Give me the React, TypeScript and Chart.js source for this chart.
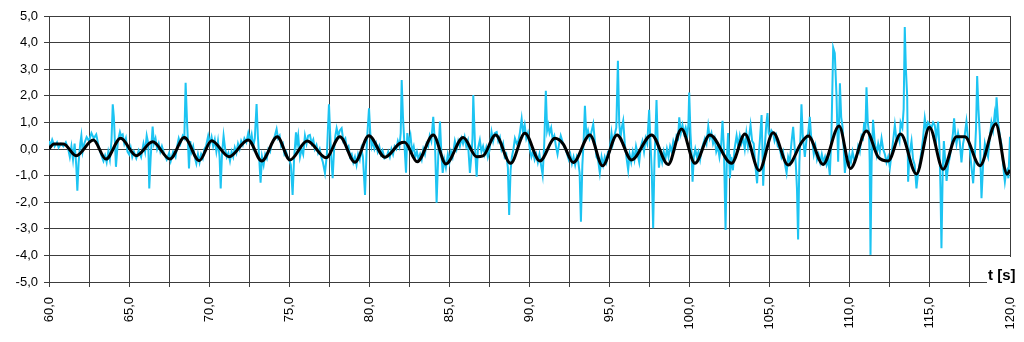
import React, { useEffect, useRef } from "react";
import { Chart, registerables } from "chart.js";

Chart.register(...registerables);

// ---- axis settings (values) ----
const xMin = 60;
const xMax = 120;
const xStep = 2.5;
const xLabelEvery = 5;
const yMin = -5;
const yMax = 5;
const yStep = 1;
const xAxisTitle = "t [s]";

// ---- black (smoothed) series: time [s] / value ----
const tBlack = [
  60.0, 60.3, 60.9, 61.7, 62.77, 63.56, 64.47, 65.45, 66.47, 67.55,
  68.45, 69.38, 70.15, 71.24, 72.44, 73.28, 74.25, 75.04, 76.12, 77.3,
  78.16, 79.1, 79.97, 80.97, 81.9, 82.2, 82.99, 83.99, 84.78, 85.86,
  86.7, 87.1, 87.88, 88.82, 89.71, 90.65, 91.59, 92.1, 92.73, 93.77,
  94.56, 95.47, 96.37, 97.62, 98.66, 99.49, 100.33, 101.26, 102.62, 103.45,
  104.34, 105.21, 106.15, 106.98, 107.4, 108.33, 109.33, 110.04, 111.04, 111.77,
  112.4, 113.17, 114.16, 114.97, 115.82, 116.66, 117.18, 118.12, 119.11, 119.82,
  120.0,
];
const vBlack = [
  0.0, 0.19, 0.19, -0.25, 0.34, -0.38, 0.40, -0.25, 0.27, -0.38,
  0.43, -0.44, 0.31, -0.29, 0.34, -0.45, 0.46, -0.41, 0.30, -0.33,
  0.46, -0.50, 0.50, -0.31, 0.21, 0.25, -0.48, 0.53, -0.56, 0.43,
  -0.29, -0.26, 0.53, -0.54, 0.59, -0.45, 0.40, 0.19, -0.51, 0.53,
  -0.63, 0.53, -0.41, 0.53, -0.58, 0.75, -0.54, 0.53, -0.54, 0.56,
  -0.81, 0.61, -0.60, 0.24, 0.49, -0.58, 0.86, -0.73, 0.68, -0.30,
  -0.45, 0.56, -0.94, 0.82, -0.76, 0.46, 0.46, -0.63, 0.94, -0.94,
  -0.79,
];

// ---- cyan (raw) series: time [s] / value ----
const tCyan = [
  // 60-65
  60.0, 60.1, 60.2, 60.35, 60.5, 60.6, 60.75, 60.9, 61.05, 61.2,
  61.3, 61.4, 61.5, 61.6, 61.7, 61.77, 61.85, 61.95, 62.02, 62.1,
  62.2, 62.35, 62.5, 62.65, 62.8, 62.95, 63.1, 63.25, 63.4, 63.5,
  63.6, 63.7, 63.8, 63.9, 63.98, 64.05, 64.12, 64.18, 64.3, 64.43,
  64.5, 64.6, 64.7, 64.8, 64.9, 65.0,
  // 65-70
  65.1, 65.2, 65.3, 65.45, 65.6, 65.75, 65.9, 66.0, 66.1, 66.2,
  66.26, 66.35, 66.47, 66.55, 66.65, 66.75, 66.85, 66.95, 67.05, 67.2,
  67.35, 67.5, 67.6, 67.75, 67.9, 68.0, 68.1, 68.2, 68.35, 68.45,
  68.53, 68.62, 68.68, 68.74, 68.82, 68.9, 69.0, 69.1, 69.2, 69.3,
  69.4, 69.5, 69.6, 69.7, 69.8, 69.94,
  // 70-75
  70.05, 70.15, 70.25, 70.35, 70.45, 70.55, 70.65, 70.72, 70.8, 70.9,
  71.0, 71.1, 71.2, 71.3, 71.4, 71.5, 71.6, 71.7, 71.8, 71.9,
  72.0, 72.1, 72.2, 72.32, 72.44, 72.55, 72.65, 72.75, 72.85, 72.96,
  73.04, 73.12, 73.21, 73.3, 73.4, 73.5, 73.6, 73.7, 73.8, 73.9,
  74.0, 74.1, 74.21, 74.3, 74.4, 74.5, 74.6, 74.7, 74.8, 74.9,
  // 75-80
  75.0, 75.1, 75.21, 75.3, 75.42, 75.49, 75.56, 75.67, 75.77, 75.87,
  75.98, 76.08, 76.18, 76.29, 76.4, 76.5, 76.6, 76.7, 76.8, 76.9,
  77.0, 77.1, 77.23, 77.35, 77.48, 77.56, 77.63, 77.71, 77.8, 77.88,
  77.96, 78.06, 78.16, 78.27, 78.38, 78.5, 78.6, 78.7, 78.8, 78.9,
  79.0, 79.1, 79.2, 79.3, 79.4, 79.5, 79.6, 79.73, 79.85, 79.98,
  // 80-85
  80.06, 80.14, 80.22, 80.32, 80.42, 80.52, 80.62, 80.72, 80.82, 80.95,
  81.08, 81.18, 81.28, 81.38, 81.48, 81.58, 81.68, 81.78, 81.88, 81.96,
  82.02, 82.1, 82.18, 82.29, 82.37, 82.47, 82.57, 82.67, 82.77, 82.87,
  82.97, 83.07, 83.17, 83.27, 83.37, 83.47, 83.57, 83.67, 83.77, 83.87,
  83.99, 84.1, 84.2, 84.3, 84.41, 84.5, 84.58, 84.68, 84.78, 84.9,
  // 85-90
  85.0, 85.1, 85.2, 85.34, 85.45, 85.55, 85.65, 85.75, 85.85, 85.95,
  86.05, 86.15, 86.28, 86.38, 86.44, 86.49, 86.56, 86.62, 86.7, 86.78,
  86.9, 87.0, 87.1, 87.2, 87.3, 87.4, 87.5, 87.63, 87.73, 87.83,
  87.95, 88.05, 88.15, 88.25, 88.35, 88.45, 88.55, 88.65, 88.73, 88.82,
  88.9, 89.0, 89.09, 89.2, 89.3, 89.4, 89.51, 89.6, 89.7, 89.8,
  // 90-95
  89.9, 90.02, 90.12, 90.22, 90.32, 90.42, 90.52, 90.62, 90.72, 90.82,
  90.92, 91.02, 91.1, 91.17, 91.25, 91.35, 91.45, 91.55, 91.65, 91.75,
  91.85, 91.95, 92.05, 92.15, 92.25, 92.35, 92.45, 92.55, 92.65, 92.75,
  92.85, 92.95, 93.05, 93.13, 93.21, 93.3, 93.38, 93.46, 93.55, 93.65,
  93.75, 93.85, 93.98, 94.08, 94.18, 94.28, 94.39, 94.5, 94.6, 94.7,
  94.8, 94.9,
  // 95-100
  95.0, 95.12, 95.2, 95.3, 95.42, 95.52, 95.6, 95.68, 95.76, 95.85,
  95.95, 96.05, 96.16, 96.25, 96.35, 96.45, 96.55, 96.65, 96.75, 96.85,
  96.95, 97.05, 97.15, 97.25, 97.35, 97.47, 97.55, 97.63, 97.72, 97.8,
  97.86, 97.93, 98.0, 98.08, 98.18, 98.28, 98.38, 98.48, 98.58, 98.68,
  98.78, 98.88, 98.98, 99.08, 99.18, 99.28, 99.35, 99.45, 99.55, 99.65,
  99.75, 99.85, 99.92, 99.97,
  // 100-105
  100.05, 100.12, 100.18, 100.26, 100.35, 100.45, 100.55, 100.65, 100.75, 100.85,
  100.95, 101.05, 101.16, 101.26, 101.36, 101.46, 101.56, 101.66, 101.76, 101.86,
  101.96, 102.05, 102.14, 102.24, 102.32, 102.4, 102.46, 102.51, 102.6, 102.7,
  102.8, 102.93, 103.03, 103.13, 103.23, 103.34, 103.44, 103.54, 103.64, 103.72,
  103.8, 103.9, 104.0, 104.1, 104.21, 104.3, 104.38, 104.49, 104.54, 104.59,
  104.68, 104.78, 104.86, 104.93,
  // 105-110
  105.0, 105.1, 105.21, 105.3, 105.4, 105.5, 105.63, 105.73, 105.83, 105.93,
  106.05, 106.15, 106.25, 106.35, 106.46, 106.55, 106.63, 106.7, 106.77, 106.85,
  106.92, 106.98, 107.06, 107.13, 107.19, 107.3, 107.4, 107.5, 107.58, 107.66,
  107.75, 107.85, 107.95, 108.05, 108.15, 108.25, 108.35, 108.45, 108.55, 108.65,
  108.75, 108.85, 108.96, 109.06, 109.17, 109.27, 109.38, 109.46, 109.54, 109.62,
  109.69, 109.79, 109.89, 109.97,
  // 110-115
  110.07, 110.17, 110.27, 110.42, 110.52, 110.62, 110.73, 110.82, 110.9, 110.97,
  111.04, 111.12, 111.2, 111.24, 111.29, 111.36, 111.45, 111.55, 111.67, 111.77,
  111.87, 111.98, 112.08, 112.19, 112.29, 112.39, 112.5, 112.6, 112.7, 112.81,
  112.9, 113.02, 113.1, 113.17, 113.28, 113.36, 113.43, 113.5, 113.58, 113.64,
  113.72, 113.85, 113.95, 114.05, 114.16, 114.26, 114.37, 114.47, 114.57, 114.68,
  114.78, 114.88, 114.99,
  // 115-120
  115.1, 115.2, 115.3, 115.4, 115.51, 115.6, 115.66, 115.72, 115.8, 115.87,
  115.95, 116.04, 116.14, 116.24, 116.34, 116.44, 116.51, 116.58, 116.66, 116.76,
  116.86, 116.97, 117.07, 117.17, 117.28, 117.38, 117.49, 117.58, 117.7, 117.8,
  117.88, 117.95, 118.03, 118.12, 118.17, 118.22, 118.32, 118.43, 118.53, 118.63,
  118.73, 118.84, 118.94, 119.04, 119.1, 119.16, 119.26, 119.36, 119.46, 119.56,
  119.62, 119.68, 119.75, 119.82, 119.9, 120.0,
];
const vCyan = [
  // 60-65
  0.3, 0.15, 0.35, 0.1, 0.25, 0.05, 0.2, 0.1, 0.25, 0.0,
  -0.3, 0.1, -0.4, 0.2, -0.6, -1.57, -0.5, 0.2, 0.5, -0.1,
  0.2, 0.45, 0.3, 0.6, 0.4, 0.55, 0.1, -0.2, -0.45, -0.25,
  -0.5, -0.1, -0.4, 0.3, 1.68, 1.2, 0.2, -0.67, 0.3, 0.64,
  0.5, 0.55, 0.2, 0.4, -0.1, -0.2,
  // 65-70
  0.05, -0.3, -0.1, -0.35, -0.05, -0.3, 0.2, -0.1, 0.5, 0.2,
  -1.48, -0.3, 0.84, 0.2, 0.4, 0.0, 0.2, -0.1, 0.1, -0.2,
  -0.4, -0.15, -0.45, -0.1, -0.3, 0.1, 0.4, 0.2, 0.5, 0.4,
  2.49, 1.0, 0.2, -0.73, 0.3, -0.1, 0.1, -0.3, -0.55, -0.2,
  -0.5, -0.2, -0.35, 0.0, 0.1, 0.5,
  // 70-75
  0.2, 0.45, 0.1, 0.35, -0.1, 0.3, -0.3, -1.48, -0.2, 0.5,
  0.0, -0.3, -0.15, -0.45, -0.1, -0.3, 0.05, -0.15, 0.2, 0.0,
  0.3, 0.15, 0.4, 0.25, 0.6, 0.3, 0.55, 0.1, 0.4, 1.69,
  0.5, -0.3, -1.27, -0.3, -0.6, -0.2, -0.35, 0.0, -0.1, 0.2,
  0.3, 0.5, 0.75, 0.4, 0.5, 0.1, 0.2, -0.2, -0.1, -0.3,
  // 75-80
  -0.4, -0.6, -1.73, -0.4, 0.63, 0.2, 0.5, -0.3, 0.0, -0.2,
  0.5, 0.2, 0.5, 0.53, 0.2, 0.35, 0.0, 0.15, -0.15, 0.0,
  -0.3, -0.5, -0.91, -0.2, 1.68, 0.5, -0.4, -1.1, 0.0, 0.5,
  0.78, 0.5, 0.7, 0.78, 0.3, 0.4, 0.0, 0.1, -0.3, -0.2,
  -0.5, -0.3, -0.6, -0.2, -0.4, 0.0, -0.3, -1.73, 0.3, 1.53,
  // 80-85
  0.6, 0.1, 0.3, 0.0, 0.2, -0.1, 0.1, -0.2, -0.05, -0.35,
  -0.3, -0.1, -0.3, 0.0, -0.2, 0.1, 0.0, 0.3, 0.1, 0.6,
  2.59, 1.2, 0.3, -0.89, 0.6, 0.2, 0.5, -0.1, 0.1, -0.3,
  -0.1, -0.4, -0.2, -0.4, 0.0, -0.2, 0.2, 0.1, 0.5, 0.3,
  1.21, 0.2, -2.02, -0.3, 1.03, -0.2, -0.9, -0.4, -0.7, -0.2,
  // 85-90
  -0.5, -0.1, -0.3, 0.3, 0.0, 0.3, 0.1, 0.4, 0.2, 0.45,
  0.1, 0.3, -0.9, -0.2, 0.4, 2.03, 0.8, -0.2, -1.04, 0.0,
  0.34, -0.1, 0.1, -0.2, 0.05, -0.3, -0.05, 0.64, 0.3, 0.6,
  0.64, 0.3, 0.45, 0.0, 0.2, -0.3, -0.2, -0.7, -2.48, -0.8,
  -0.3, 0.0, 0.4, 0.2, 0.3, 0.6, 1.13, 0.6, 0.9, 0.4,
  // 90-95
  0.6, 0.0, -0.3, -0.1, -0.4, -0.2, -0.5, -0.2, -0.6, -0.98,
  0.2, 2.19, 0.7, 0.9, 0.6, 0.8, 0.35, 0.5, 0.1, -0.2,
  0.2, 0.5, 0.3, 0.1, 0.0, -0.2, -0.4, -0.2, -0.55, -0.3,
  -0.6, -0.3, -0.5, -0.9, -2.73, -0.6, 0.3, 1.62, 0.5, 0.7,
  0.4, 0.6, 0.94, 0.3, -0.3, -0.4, -0.9, -0.3, -0.6, -0.3,
  -0.5, -0.1,
  // 95-100
  -0.1, 0.6, 0.2, 0.5, 0.8, 3.32, 1.0, 0.4, 0.8, 1.06,
  0.2, -0.3, -0.79, -0.2, -0.5, -0.1, -0.4, 0.1, -0.2, -0.5,
  0.1, 0.3, -0.1, 0.4, 0.2, 1.47, 0.3, -0.8, -2.98, -0.5,
  0.5, 1.84, 0.4, -0.7, -0.2, -0.5, -0.1, -0.4, 0.0, -0.3,
  0.1, -0.1, 0.3, 0.1, 0.5, 0.4, 1.19, 0.6, 0.9, 0.6,
  0.8, 0.5, 0.9, 2.12,
  // 100-105
  0.6, -0.2, -1.23, -0.3, 0.0, -0.3, -0.1, -0.4, 0.0, 0.2,
  0.4, 0.2, 0.86, 0.4, 0.6, 0.2, 0.4, -0.1, 0.1, -0.3,
  0.1, 1.06, 0.0, -3.04, -0.4, 0.6, -0.2, -1.1, -0.3, -0.8,
  0.0, 0.5, 0.1, 0.5, 0.2, 0.4, 0.0, 0.6, 0.1, 0.5,
  0.9, 0.3, 0.2, -0.6, -1.29, -0.3, 0.3, 1.28, 0.0, -1.38,
  0.0, 0.9, 1.35, 0.6,
  // 105-110
  0.5, 0.7, 0.6, 0.3, 0.5, 0.1, 0.0, -0.3, -0.1, -0.5,
  -0.9, -0.3, -0.5, 0.2, 0.83, 0.1, -0.6, -1.5, -3.4, -0.5,
  0.5, 1.68, 0.5, 0.1, -0.3, 0.4, 0.6, 1.21, 0.5, 0.3,
  -0.2, 0.1, -0.4, -0.2, -0.5, -0.2, -0.5, -0.3, -0.6, -0.4,
  -0.98, 0.5, 3.81, 3.6, 1.97, -0.48, 2.47, 1.2, 0.86, 0.0,
  -0.9, -0.3, -0.5, -0.2,
  // 110-115
  -0.5, -0.1, -0.4, -0.3, 0.1, -0.1, 0.5, 0.4, 1.0, 0.6,
  2.32, 1.0, 0.6, -0.5, -3.98, -0.5, 1.1, 0.3, -0.2, 0.2,
  -0.1, 0.4, 0.0, -0.2, -0.5, -0.3, -0.7, -0.2, 0.3, 0.9,
  0.4, 0.5, 0.3, 1.0, 0.8, 1.5, 4.59, 3.0, 2.0, -1.23,
  -0.2, 0.3, -0.4, -0.6, -1.48, -0.9, -0.5, -0.1, 0.4, 1.15,
  0.7, 1.0, 0.9,
  // 115-120
  0.8, 1.0, 0.9, 0.4, 1.03, 0.0, -1.5, -3.73, -0.8, 0.3,
  -0.4, -1.2, -0.6, -0.3, 0.1, 0.6, 1.15, 0.6, 0.2, 0.6,
  0.3, -0.5, 0.2, 0.5, 1.03, 0.4, 0.0, -0.6, -1.29, -0.3,
  0.8, 2.74, 1.5, 0.5, -0.8, -1.85, -0.6, 0.2, -0.1, -0.3,
  0.4, 1.0, 0.7, 1.3, 1.0, 1.94, 1.0, 0.5, 0.2, -0.5,
  -0.9, -1.23, -0.9, -0.8, -1.1, 0.46,
];

const fmt = (v: number) => v.toFixed(1).replace(".", ",");
const toPoints = (ts: number[], vs: number[]) => {
  const n = Math.min(ts.length, vs.length);
  const out: { x: number; y: number }[] = [];
  for (let i = 0; i < n; i++) out.push({ x: ts[i], y: vs[i] });
  return out;
};

const FONT = "'Liberation Sans', Arial, sans-serif";
const GRID = "#3c3c3c";

const axisTitlePlugin = {
  id: "axisTitleBox",
  afterDraw(chart: any) {
    const { ctx, chartArea } = chart;
    ctx.save();
    ctx.fillStyle = "#ffffff";
    ctx.fillRect(chartArea.right - 23, chartArea.bottom - 25, 60, 30);
    ctx.fillStyle = "#000000";
    ctx.font = `bold 15px ${FONT}`;
    ctx.textAlign = "left";
    ctx.textBaseline = "alphabetic";
    ctx.fillText(xAxisTitle, chartArea.right - 22, chartArea.bottom - 2);
    ctx.restore();
  },
};

export default function App() {
  const ref = useRef<HTMLCanvasElement | null>(null);
  useEffect(() => {
    document.body.style.margin = "0";
    const canvas = ref.current;
    if (!canvas) return;
    const chart = new Chart(canvas, {
      type: "line",
      data: {
        datasets: [
          {
            label: "smooth",
            data: toPoints(tBlack, vBlack),
            borderColor: "#000000",
            borderWidth: 3,
            pointRadius: 0,
            cubicInterpolationMode: "monotone",
            fill: false,
            order: 0,
          },
          {
            label: "raw",
            data: toPoints(tCyan, vCyan),
            borderColor: "#1cc4f2",
            borderWidth: 2,
            pointRadius: 0,
            tension: 0,
            fill: false,
            order: 1,
          },
        ],
      },
      options: {
        animation: false,
        responsive: true,
        maintainAspectRatio: false,
        layout: { padding: { top: 16, right: 14, left: 0, bottom: 0 } },
        plugins: { legend: { display: false }, tooltip: { enabled: false } },
        scales: {
          x: {
            type: "linear",
            min: xMin,
            max: xMax,
            afterFit: (s: any) => {
              s.height = 60;
              s.paddingLeft = 0;
              s.paddingRight = 0;
            },
            afterBuildTicks: (s: any) => {
              const ticks = [];
              for (let v = xMin; v <= xMax + 1e-9; v += xStep) ticks.push({ value: v });
              s.ticks = ticks;
            },
            ticks: {
              autoSkip: false,
              minRotation: 90,
              maxRotation: 90,
              padding: 10,
              color: "#000",
              font: { family: FONT, size: 13 },
              callback: (v: any) =>
                Math.abs(Number(v) / xLabelEvery - Math.round(Number(v) / xLabelEvery)) < 1e-6
                  ? fmt(Number(v))
                  : "",
            },
            grid: { color: GRID, lineWidth: 1, tickLength: 5, drawTicks: true },
            border: { color: GRID, width: 1 },
          },
          y: {
            type: "linear",
            min: yMin,
            max: yMax,
            afterFit: (s: any) => {
              s.width = 49;
              s.paddingTop = 0;
              s.paddingBottom = 0;
            },
            ticks: {
              stepSize: yStep,
              padding: 6,
              color: "#000",
              font: { family: FONT, size: 13 },
              callback: (v: any) => fmt(Number(v)),
            },
            grid: { color: GRID, lineWidth: 1, tickLength: 5, drawTicks: true },
            border: { color: GRID, width: 1 },
          },
        },
      },
      plugins: [axisTitlePlugin],
    });
    return () => chart.destroy();
  }, []);
  return (
    <div style={{ position: "absolute", left: 0, top: 0, width: 1024, height: 342, background: "#fff" }}>
      <canvas ref={ref} />
    </div>
  );
}
